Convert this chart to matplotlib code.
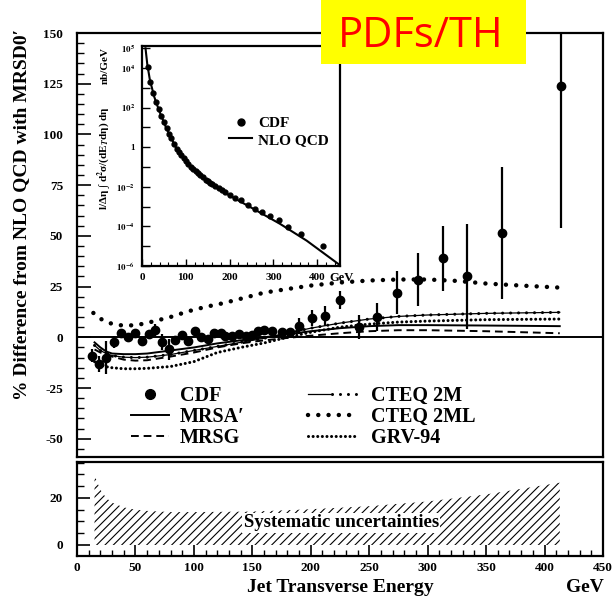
import math
import matplotlib
matplotlib.use('Agg')
import matplotlib.pyplot as plt
from matplotlib.ticker import MultipleLocator, FixedLocator, FuncFormatter, NullLocator
from matplotlib.patches import Rectangle
from matplotlib.lines import Line2D
from matplotlib.legend_handler import HandlerTuple

# CDF data: % difference from NLO QCD (MRSD0')
cdf_et = [13, 19, 25, 32, 38, 44, 50, 56, 62, 67, 73, 79, 84, 90, 95, 101, 106, 112, 117, 123,
          127, 133, 139, 145, 150, 155, 160, 167, 175, 182, 190, 201, 212, 225, 241, 257, 274,
          292, 313, 334, 364, 414]
cdf_diff = [-9, -13, -10, -2.5, 2, 0, 2, -2, 1.5, 3.5, -2.5, -6, -1.3, 1, -1.8, 3, 0, -0.7, 2.3, 2,
            0.6, 0.6, 1.8, 0.6, 1, 3, 3.6, 3, 2.6, 2.6, 5.5, 9.6, 10.4, 18.3, 5, 10, 22,
            28.4, 39, 30, 51.3, 123.7]
cdf_err = [3, 4, 8, 3, 1.5, 1.5, 1.5, 1.5, 1.5, 3, 4, 5, 1.5, 1.5, 1.5, 1.5, 1.5, 1.5, 1.5, 1.5,
           1.5, 1.5, 1.5, 1.5, 1.5, 1.5, 1.5, 1.5, 1.5, 1.5, 4, 4, 5, 4.5, 6, 7, 10.6,
           13, 16, 26, 32.5, 70]

# theory curves
th_et = [15, 20, 25, 30, 40, 50, 60, 80, 100, 120, 140, 160, 180, 200, 225, 250, 275, 300, 350, 413]
mrsa = [-2.5, -5, -7, -8, -8.3, -8.3, -8, -6.5, -5, -3, -1.5, 0, 1.5, 3, 4.5, 5.5, 6, 6, 5.8, 5.5]
mrsg = [-6, -7.5, -8.5, -9.5, -11, -11.5, -11.3, -9.5, -7.5, -5, -3, -1.5, -0.3, 0.8, 2, 3, 3.5, 3.5, 3, 2]
cteq2m = [-4, -6.5, -8, -9, -9.8, -10, -9.8, -8.5, -6.5, -4.5, -2.5, -0.5, 2, 4.5, 7, 9, 10.3, 11, 11.8, 12.3]
grv94 = [-12, -13.5, -14.5, -15, -15.5, -15.5, -15.3, -14.4, -12, -7.5, -5, -2.8, 0, 2.5, 5, 6.5, 7.5, 8, 8.7, 9]
ml_et = [14, 18, 22, 28, 35, 45, 55, 65, 80, 95, 110, 125, 140, 160, 180, 200, 225, 250, 275, 300,
         325, 350, 380, 413]
cteq2ml = [12, 10, 8.5, 7, 6, 5.8, 6.5, 7.8, 10, 12.8, 15, 16.8, 19, 22, 23.8, 25.5, 27, 28, 28.5,
           28.5, 27.8, 26.5, 25.5, 24.5]

# systematic uncertainty band
sys_et = [15, 17, 20, 25, 30, 35, 40, 50, 60, 80, 100, 150, 200, 250, 300, 350, 413]
sys_up = [30, 27, 23.5, 20, 18, 17, 16, 15, 14.5, 14, 14, 14.2, 15.2, 16.5, 18.5, 21.5, 26.5]

# inset: cross section (nb/GeV)
nlo_et = [8, 12, 18, 28, 39, 54, 77, 108, 146, 200, 254, 315, 376, 452]
nlo_xs = [1e5, 1.6e4, 2.5e3, 3.5e2, 71, 11, 1.0, 0.12, 0.021, 3.6e-3, 7.8e-4, 1.35e-4, 1.9e-5, 1.1e-6]
inset_cdf = [1.1e4, 1.9e3, 5.4e2, 2.0e2, 82, 38, 18.6, 8.9, 4.9, 2.95, 1.48, 0.81, 0.60, 0.41,
             0.29, 0.20, 0.138, 0.100, 0.081, 0.063, 0.050, 0.038, 0.030, 0.022, 0.0186, 0.0158,
             0.0138, 0.0107, 8.5e-3, 6.8e-3, 5.2e-3, 3.9e-3, 2.8e-3, 2.1e-3, 1.17e-3, 7.8e-4,
             5.4e-4, 3.4e-4, 2.0e-4, 9.5e-5, 4.3e-5, 1.0e-5]

plt.rcParams['font.family'] = ['Liberation Serif', 'DejaVu Serif']
plt.rcParams['font.weight'] = 'bold'
plt.rcParams['axes.labelweight'] = 'bold'
plt.rcParams['axes.unicode_minus'] = False
plt.rcParams['mathtext.fontset'] = 'stix'
plt.rcParams['hatch.linewidth'] = 0.8
plt.rcParams['axes.linewidth'] = 1.6

W, H = 612, 598
fig = plt.figure(figsize=(W / 100, H / 100), dpi=100)


def box(l, t, r, b):
    return [l / W, 1 - b / H, (r - l) / W, (b - t) / H]


ax = fig.add_axes(box(77, 33, 603, 457))
axb = fig.add_axes(box(77, 462, 603, 556))
axin = fig.add_axes(box(142, 46, 340, 266))

# main panel
ax.axhline(0, color='k', lw=1.4, zorder=2)
l_mrsa, = ax.plot(th_et, mrsa, color='k', lw=1.4)
l_mrsg, = ax.plot(th_et, mrsg, color='k', lw=1.4, ls=(0, (4, 2.5)))
l_c2a, = ax.plot(th_et, cteq2m, color='k', lw=0.9)
l_c2b, = ax.plot(th_et, cteq2m, color='k', lw=2.2, ls=(0, (0.01, 2.6)), dash_capstyle='round')
l_ml, = ax.plot(ml_et, cteq2ml, color='k', lw=3.2, ls=(0, (0.01, 2.3)), dash_capstyle='round')
l_grv, = ax.plot(th_et, grv94, color='k', lw=2.2, ls=(0, (0.01, 1.5)), dash_capstyle='round')
ax.errorbar(cdf_et, cdf_diff, yerr=cdf_err, fmt='o', color='k', ms=6, elinewidth=1.6,
            capsize=0, zorder=4)

ax.set_xlim(0, 450)
ax.set_ylim(-59, 150)
ax.yaxis.set_major_locator(MultipleLocator(25))
ax.yaxis.set_minor_locator(MultipleLocator(5))
ax.tick_params(axis='x', bottom=False, labelbottom=False)
ax.tick_params(axis='y', which='major', direction='in', length=10, width=1.2, pad=10, labelsize=9.5)
ax.tick_params(axis='y', which='minor', direction='in', length=5, width=1)
ax.set_ylabel('% Difference from NLO QCD with MRSD0′', fontsize=14, fontweight='bold', va='center')
ax.yaxis.set_label_coords(-0.105, 0.571)

cdf_h = Line2D([], [], marker='o', ls='none', color='k', ms=7)
leg1 = ax.legend([cdf_h, l_mrsa, l_mrsg], ['CDF', 'MRSA′', 'MRSG'], loc='upper left',
                 bbox_to_anchor=(0.103, 0.168), frameon=False, fontsize=14.5, handlelength=1.9,
                 handletextpad=0.5, labelspacing=0.05, borderpad=0, borderaxespad=0)
ax.add_artist(leg1)
ax.legend([(l_c2a, l_c2b), l_ml, l_grv], ['CTEQ 2M', 'CTEQ 2ML', 'GRV-94'], loc='upper left',
          handler_map={tuple: HandlerTuple(ndivide=None)},
          bbox_to_anchor=(0.44, 0.168), frameon=False, fontsize=14.5, handlelength=2.35,
          handletextpad=0.75, labelspacing=0.05, borderpad=0, borderaxespad=0)

# systematic band panel
axb.fill_between(sys_et, 0, sys_up, facecolor='none', edgecolor='k', hatch='////', lw=0)
axb.text(226, 9.4, 'Systematic uncertainties', ha='center', va='center', fontsize=13.5,
         bbox=dict(facecolor='white', edgecolor='none', pad=1))
axb.set_xlim(0, 450)
axb.set_ylim(-4.7, 35.3)
axb.set_yticks([0, 20])
axb.yaxis.set_minor_locator(MultipleLocator(5))
axb.xaxis.set_major_locator(MultipleLocator(50))
axb.xaxis.set_minor_locator(MultipleLocator(10))
axb.tick_params(axis='y', which='major', direction='in', length=9, width=1.2, pad=10, labelsize=9.5)
axb.tick_params(axis='y', which='minor', direction='in', length=5, width=1)
axb.tick_params(axis='x', which='major', direction='in', length=8, width=1.2, pad=4, labelsize=9.5)
axb.tick_params(axis='x', which='minor', direction='in', length=4, width=1)
axb.set_xlabel('Jet Transverse Energy', fontsize=14, fontweight='bold', va='center')
axb.xaxis.set_label_coords(0.5, -0.34)
axb.text(0.966, -0.34, 'GeV', transform=axb.transAxes, ha='center', va='center', fontsize=14)

# inset
axin.semilogy(nlo_et, nlo_xs, color='k', lw=1.5)
axin.plot(cdf_et, inset_cdf, 'o', color='k', ms=3.5)
axin.set_xlim(0, 452)
axin.set_ylim(1e-6, 1.3e5)
axin.yaxis.set_major_locator(FixedLocator([10.0 ** k for k in range(-6, 6)]))
axin.yaxis.set_minor_locator(NullLocator())
shown = {5: r'$\mathbf{10^{5}}$', 4: r'$\mathbf{10^{4}}$', 2: r'$\mathbf{10^{2}}$', 0: '1',
         -2: r'$\mathbf{10^{-2}}$', -4: r'$\mathbf{10^{-4}}$', -6: r'$\mathbf{10^{-6}}$'}
axin.yaxis.set_major_formatter(FuncFormatter(lambda v, p: shown.get(int(round(math.log10(v))), '')))
axin.set_xticks([0, 100, 200, 300, 400])
axin.xaxis.set_minor_locator(MultipleLocator(20))
axin.tick_params(axis='y', direction='in', length=6, width=1, pad=5, labelsize=6.5)
axin.tick_params(axis='x', which='major', direction='in', length=5, width=1, pad=5, labelsize=8)
axin.tick_params(axis='x', which='minor', direction='in', length=3, width=0.8)
axin.set_ylabel('l/Δη ∫ d$^2$σ/(dE$_T$dη) dη', fontsize=8, fontweight='bold', va='center')
axin.yaxis.set_label_coords(-0.185, 0.49)
axin.text(-0.185, 0.91, 'nb/GeV', transform=axin.transAxes, rotation=90, ha='center',
          va='center', fontsize=8)
axin.text(1.01, -0.055, 'GeV', transform=axin.transAxes, ha='center', va='center', fontsize=9)
axin.legend([Line2D([], [], marker='o', ls='none', color='k', ms=5),
             Line2D([], [], color='k', lw=1.5)], ['CDF', 'NLO QCD'], loc='upper left',
            bbox_to_anchor=(0.44, 0.68), frameon=False, fontsize=11, handlelength=1.5,
            handletextpad=0.4, labelspacing=0.2, borderpad=0, borderaxespad=0)

# slide tag
fig.patches.append(Rectangle((321 / W, 1 - 64 / H), 205 / W, 64 / H, facecolor='#ffff00',
                             edgecolor='none', transform=fig.transFigure, zorder=10))
fig.text(421 / W, 1 - 47 / H, 'PDFs/TH', color='#ff0000', fontsize=30, family='Open Sans',
         fontweight='normal', ha='center', va='baseline', zorder=11)

fig.savefig('out.png', dpi=100)
